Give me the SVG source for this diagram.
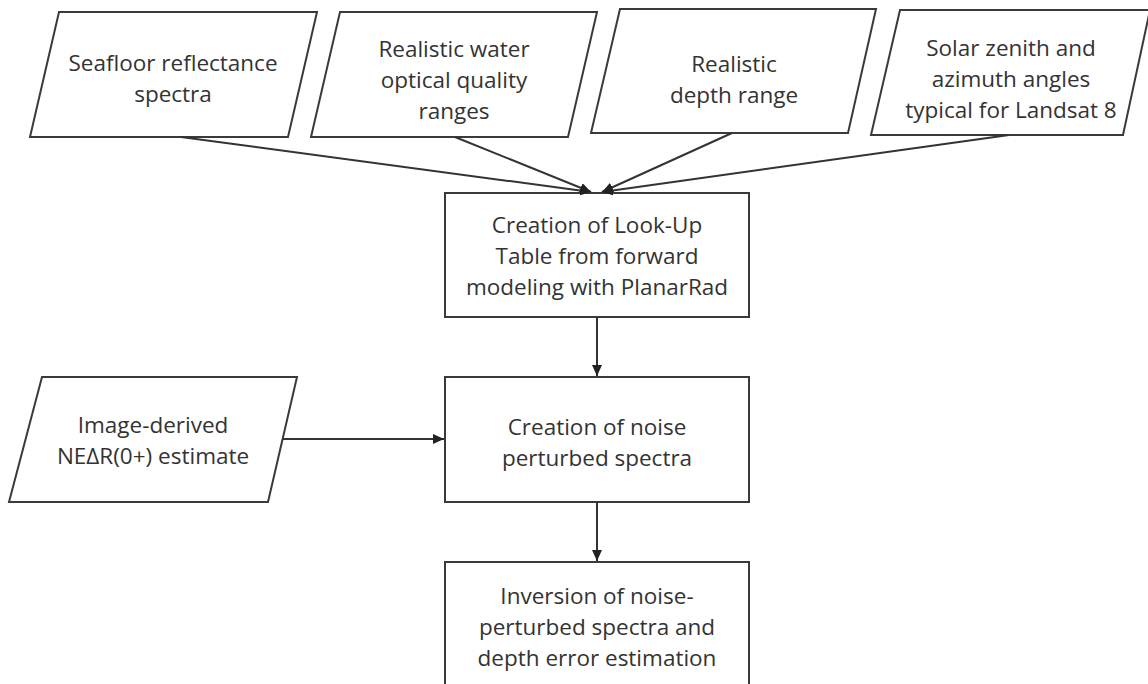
<svg xmlns="http://www.w3.org/2000/svg" width="1148" height="684" viewBox="0 0 1148 684">
<style>
.s{fill:#fff;stroke:#3a3a3a;stroke-width:2}
.t{font-family:"Open Sans","Noto Sans",sans-serif;font-size:22.5px;fill:#333;text-anchor:middle}
.c{fill:none;stroke:#333;stroke-width:2}
</style>
<defs>
<marker id="a" markerWidth="12" markerHeight="10" refX="11" refY="5" orient="auto" markerUnits="userSpaceOnUse">
<path d="M0,0 L11,5 L0,10 Z" fill="#222"/>
</marker>
</defs>
<rect width="1148" height="684" fill="#fff"/>
<g id="n1"><polygon class="s" points="59,12 317,12 288,137 30,137"/>
<text class="t" x="173" y="71">Seafloor reflectance</text><text class="t" x="173" y="102">spectra</text></g>
<g id="n2"><polygon class="s" points="340,12 597,12 568,137 311,137"/>
<text class="t" x="454" y="57">Realistic water</text><text class="t" x="454" y="88">optical quality</text><text class="t" x="454" y="119">ranges</text></g>
<g id="n3"><polygon class="s" points="620,9 876,9 848,133 591,133"/>
<text class="t" x="734" y="72">Realistic</text><text class="t" x="734" y="103">depth range</text></g>
<g id="n4"><polygon class="s" points="900,10 1150,10 1123,135 871,135"/>
<text class="t" x="1011" y="56">Solar zenith and</text><text class="t" x="1011" y="87">azimuth angles</text><text class="t" x="1011" y="118">typical for Landsat 8</text></g>
<g id="n5"><rect class="s" x="445" y="193" width="304" height="124"/>
<text class="t" x="597" y="233">Creation of Look-Up</text><text class="t" x="597" y="264">Table from forward</text><text class="t" x="597" y="295">modeling with PlanarRad</text></g>
<g id="n6"><polygon class="s" points="42,377 297,377 268,502 9,502"/>
<text class="t" x="153" y="433">Image-derived</text><text class="t" x="153" y="464">NEΔR(0+) estimate</text></g>
<g id="n7"><rect class="s" x="445" y="377" width="304" height="125"/>
<text class="t" x="597" y="435">Creation of noise</text><text class="t" x="597" y="466">perturbed spectra</text></g>
<g id="n8"><rect class="s" x="445" y="562" width="304" height="130"/>
<text class="t" x="597" y="604">Inversion of noise-</text><text class="t" x="597" y="635">perturbed spectra and</text><text class="t" x="597" y="666">depth error estimation</text></g>
<g id="connectors">
<line class="c" x1="181" y1="137" x2="591" y2="192" marker-end="url(#a)"/>
<line class="c" x1="455" y1="137" x2="591" y2="192" marker-end="url(#a)"/>
<line class="c" x1="732" y1="133" x2="602" y2="192" marker-end="url(#a)"/>
<line class="c" x1="1009" y1="135" x2="602" y2="192" marker-end="url(#a)"/>
<line class="c" x1="597" y1="317" x2="597" y2="376" marker-end="url(#a)"/>
<line class="c" x1="282" y1="439" x2="444" y2="439" marker-end="url(#a)"/>
<line class="c" x1="597" y1="502" x2="597" y2="561" marker-end="url(#a)"/>
</g>
</svg>
